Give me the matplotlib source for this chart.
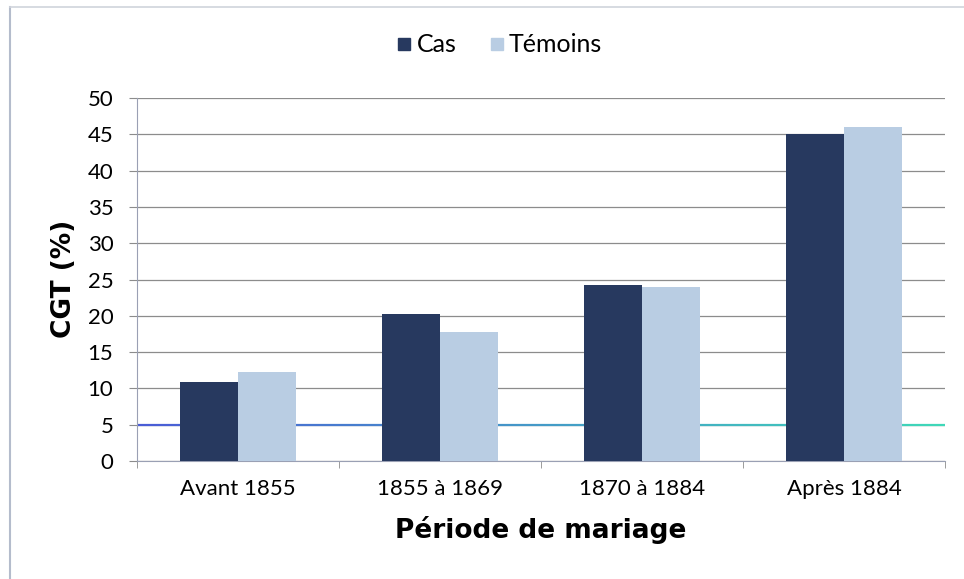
import matplotlib
matplotlib.use("Agg")
import matplotlib.pyplot as plt
import numpy as np
from matplotlib.collections import LineCollection
from matplotlib.colors import to_rgb
from matplotlib.lines import Line2D

categories = ["Avant 1855", "1855 à 1869", "1870 à 1884", "Après 1884"]
cas = [10.9, 20.2, 24.2, 45.0]
temoins = [12.2, 17.7, 24.0, 46.0]
series_names = ["Cas", "Témoins"]
reference_level = 5
y_ticks = [0, 5, 10, 15, 20, 25, 30, 35, 40, 45, 50]

plt.rcParams['font.family'] = ['Lato', 'DejaVu Sans']

fig = plt.figure(figsize=(9.64, 5.79), dpi=100)
ax = fig.add_axes([137/964, 1 - 461/579, (945-137)/964, (461-98)/579])

x = np.arange(len(categories))
w = 0.285
c_cas = "#27395f"
c_tem = "#b9cde3"
ax.bar(x - w/2, cas, width=w, color=c_cas, zorder=3, label=series_names[0])
ax.bar(x + w/2, temoins, width=w, color=c_tem, zorder=3, label=series_names[1])

# gradient reference line
n = 200
xs = np.linspace(-0.5, len(categories) - 0.5, n + 1)
segs = [[(xs[i], reference_level), (xs[i+1], reference_level)] for i in range(n)]
c0 = np.array(to_rgb("#4a5cd6"))
c1 = np.array(to_rgb("#3fd8b8"))
cols = [tuple(c0 + (c1 - c0) * (i / (n - 1))) for i in range(n)]
lc = LineCollection(segs, colors=cols, linewidths=1.6, zorder=2)
ax.add_collection(lc)

ax.set_xlim(-0.5, len(categories) - 0.5)
ax.set_ylim(0, 50)
ax.set_yticks(y_ticks)
ax.yaxis.grid(True, color="#8c8c8c", linewidth=0.9, zorder=1)
ax.set_axisbelow(True)

for s in ["top", "right"]:
    ax.spines[s].set_visible(False)
ax.spines["left"].set_color("#9aa0b4")
ax.spines["bottom"].set_color("#9aa0b4")
ax.tick_params(axis="y", length=6, color="#8c8c8c", labelsize=16, pad=11)

ax.set_xticks(x)
ax.set_xticklabels(categories, fontsize=16)
ax.tick_params(axis="x", length=0, pad=13)
ax.set_xticks(np.arange(len(categories) + 1) - 0.5, minor=True)
ax.tick_params(axis="x", which="minor", length=5, color="#8c8c8c")

fig.text(64/964, 1 - 279/579, "CGT (%)", rotation=90, ha="center", va="center",
         fontsize=19, fontweight="bold", family="DejaVu Sans")
ax.set_xlabel("Période de mariage", fontsize=19, fontweight="bold", labelpad=12,
              family="DejaVu Sans")

handles = [Line2D([], [], marker="s", linestyle="", markersize=9, color=c_cas),
           Line2D([], [], marker="s", linestyle="", markersize=9, color=c_tem)]
fig.legend(handles, series_names, loc="center", bbox_to_anchor=(497/964, 1 - 45/579),
           ncol=2, frameon=False, fontsize=18, handletextpad=0.0, columnspacing=1.1,
           handlelength=1.0)

# outer chart border (left and top visible)
fig.add_artist(Line2D([10/964, 10/964], [0, 1 - 7/579], transform=fig.transFigure,
                      color="#b4bccc", linewidth=1.5))
fig.add_artist(Line2D([10/964, 1], [1 - 7/579, 1 - 7/579], transform=fig.transFigure,
                      color="#d0d4dc", linewidth=1.2))

fig.savefig("out.png", dpi=100, facecolor="white")
